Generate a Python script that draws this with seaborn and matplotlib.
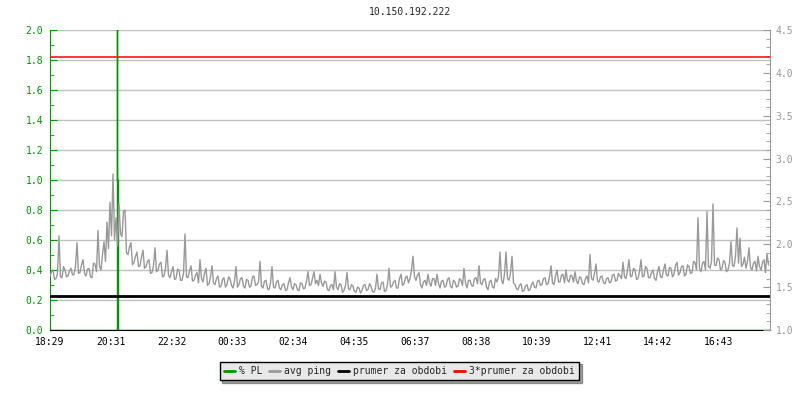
import numpy as np
import pandas as pd
import matplotlib
matplotlib.use("Agg")
import matplotlib.pyplot as plt
from matplotlib import ticker
from matplotlib.lines import Line2D
import seaborn as sns

# avg ping in ms, one reading every 3 minutes starting 18:29
ping_ms = [
    1.63, 1.68, 1.70, 1.59, 1.60, 1.66, 2.10, 1.62, 1.61, 1.74, 1.70, 1.62, 1.63, 1.69, 1.72, 1.64, 1.65, 1.74, 2.02, 1.66,
    1.67, 1.76, 1.82, 1.66, 1.63, 1.71, 1.72, 1.62, 1.61, 1.78, 1.77, 1.68, 2.16, 1.74, 1.70, 1.88, 2.03, 1.80, 2.26, 1.95,
    2.49, 2.10, 2.82, 2.05, 2.31, 1.98, 2.47, 2.12, 2.09, 2.38, 2.40, 1.90, 1.88, 1.97, 2.02, 1.76, 1.79, 1.86, 1.91, 1.74,
    1.75, 1.85, 1.93, 1.72, 1.74, 1.80, 1.82, 1.66, 1.67, 1.75, 1.96, 1.68, 1.70, 1.77, 1.79, 1.62, 1.63, 1.72, 1.93, 1.64,
    1.61, 1.68, 1.74, 1.59, 1.60, 1.71, 1.70, 1.58, 1.58, 1.66, 2.12, 1.62, 1.61, 1.69, 1.75, 1.57, 1.58, 1.64, 1.67, 1.55,
    1.82, 1.60, 1.56, 1.66, 1.72, 1.52, 1.54, 1.62, 1.75, 1.55, 1.53, 1.60, 1.63, 1.50, 1.51, 1.59, 1.61, 1.50, 1.53, 1.62,
    1.60, 1.52, 1.49, 1.57, 1.74, 1.50, 1.53, 1.60, 1.61, 1.51, 1.49, 1.59, 1.58, 1.50, 1.51, 1.62, 1.63, 1.52, 1.53, 1.56,
    1.80, 1.51, 1.49, 1.57, 1.58, 1.48, 1.47, 1.55, 1.74, 1.50, 1.49, 1.56, 1.58, 1.49, 1.47, 1.53, 1.54, 1.46, 1.47, 1.55,
    1.61, 1.50, 1.47, 1.54, 1.53, 1.47, 1.46, 1.55, 1.54, 1.48, 1.49, 1.57, 1.68, 1.52, 1.53, 1.60, 1.68, 1.54, 1.58, 1.52,
    1.65, 1.55, 1.51, 1.57, 1.56, 1.47, 1.46, 1.52, 1.53, 1.47, 1.68, 1.50, 1.47, 1.54, 1.53, 1.44, 1.46, 1.52, 1.67, 1.48,
    1.47, 1.53, 1.51, 1.45, 1.44, 1.50, 1.49, 1.43, 1.46, 1.52, 1.53, 1.46, 1.47, 1.54, 1.51, 1.45, 1.44, 1.49, 1.65, 1.48,
    1.47, 1.55, 1.56, 1.45, 1.46, 1.53, 1.72, 1.50, 1.51, 1.56, 1.58, 1.49, 1.49, 1.60, 1.65, 1.52, 1.54, 1.61, 1.63, 1.55,
    1.60, 1.70, 1.86, 1.62, 1.58, 1.64, 1.67, 1.53, 1.49, 1.56, 1.58, 1.52, 1.65, 1.55, 1.51, 1.60, 1.60, 1.52, 1.65, 1.54,
    1.49, 1.57, 1.58, 1.50, 1.51, 1.59, 1.61, 1.51, 1.49, 1.58, 1.56, 1.50, 1.51, 1.60, 1.58, 1.52, 1.72, 1.55, 1.49, 1.58,
    1.58, 1.52, 1.51, 1.60, 1.61, 1.54, 1.75, 1.55, 1.53, 1.59, 1.60, 1.50, 1.47, 1.56, 1.58, 1.50, 1.49, 1.60, 1.56, 1.63,
    1.91, 1.58, 1.54, 1.65, 1.91, 1.60, 1.58, 1.66, 1.86, 1.55, 1.53, 1.48, 1.47, 1.52, 1.54, 1.45, 1.46, 1.51, 1.53, 1.46,
    1.47, 1.53, 1.56, 1.50, 1.49, 1.57, 1.58, 1.52, 1.53, 1.60, 1.61, 1.53, 1.54, 1.62, 1.75, 1.55, 1.53, 1.63, 1.70, 1.56,
    1.56, 1.64, 1.65, 1.55, 1.70, 1.58, 1.56, 1.64, 1.63, 1.56, 1.68, 1.57, 1.54, 1.62, 1.61, 1.54, 1.53, 1.60, 1.63, 1.55,
    1.88, 1.60, 1.58, 1.66, 1.77, 1.57, 1.56, 1.62, 1.63, 1.55, 1.54, 1.60, 1.61, 1.55, 1.56, 1.64, 1.65, 1.57, 1.58, 1.66,
    1.63, 1.60, 1.79, 1.62, 1.60, 1.70, 1.82, 1.62, 1.63, 1.72, 1.70, 1.59, 1.60, 1.68, 1.82, 1.62, 1.63, 1.74, 1.72, 1.61,
    1.61, 1.67, 1.70, 1.60, 1.58, 1.68, 1.74, 1.62, 1.61, 1.70, 1.77, 1.64, 1.63, 1.73, 1.72, 1.62, 1.65, 1.75, 1.79, 1.64,
    1.67, 1.74, 1.75, 1.63, 1.65, 1.76, 1.74, 1.66, 1.67, 1.80, 1.79, 1.70, 2.31, 1.72, 1.68, 1.78, 1.80, 1.70, 2.38, 1.74,
    1.72, 1.80, 2.47, 1.76, 1.75, 1.84, 1.82, 1.70, 1.72, 1.81, 1.79, 1.68, 1.70, 1.78, 2.03, 1.75, 1.74, 1.86, 2.19, 1.78,
    2.07, 1.74, 1.77, 1.85, 1.72, 1.80, 1.96, 1.73, 1.70, 1.78, 1.80, 1.69, 1.86, 1.74, 1.70, 1.79, 1.82, 1.67, 1.89, 1.76,
]
ping_minutes = [3 * i for i in range(len(ping_ms))]

# packet loss %, zero except one burst just after 20:31
pl_minutes = [0, 134, 134, 134, 136, 136, 1439]
pl_values = [0, 0, 12.0, 1.0, 1.0, 0, 0]

mean_ms = 1.395
mean3_ms = 3 * mean_ms

tick_labels = ["18:29", "20:31", "22:32", "00:33", "02:34", "04:35",
               "06:37", "08:38", "10:39", "12:41", "14:42", "16:43"]
tick_step = 121.6
title = "10.150.192.222"

green = "#009600"
gray = "#999999"

sns.set_style("white")
plt.rcParams["font.family"] = ["DejaVu Sans Mono"]
plt.rcParams["font.size"] = 7

fig = plt.figure(figsize=(8, 4), dpi=100)
ax1 = fig.add_axes([0.0625, 0.175, 0.9, 0.75])
ax2 = ax1.twinx()

df_pl = pd.DataFrame({"t": pl_minutes, "pl": pl_values})
df_ping = pd.DataFrame({"t": ping_minutes, "ping": ping_ms})

sns.lineplot(data=df_pl, x="t", y="pl", ax=ax1, color=green, lw=1.0, legend=False,
             estimator=None, sort=False)
sns.lineplot(data=df_ping, x="t", y="ping", ax=ax2, color=gray, lw=1.0, legend=False)
ax2.axhline(mean_ms, color="black", lw=2.0)
ax2.axhline(mean3_ms, color="red", lw=1.1)

ax1.set_xlim(0, 1440)
ax1.set_ylim(0, 2.0)
ax2.set_ylim(1.0, 4.5)
ax1.set_xlabel("")
ax1.set_ylabel("")
ax2.set_ylabel("")

ax1.set_xticks([k * tick_step for k in range(len(tick_labels))])
ax1.set_xticklabels(tick_labels)
ax1.yaxis.set_major_locator(ticker.MultipleLocator(0.2))
ax1.yaxis.set_minor_locator(ticker.MultipleLocator(0.1))
ax1.yaxis.set_major_formatter(ticker.FormatStrFormatter("%.1f"))
ax2.yaxis.set_major_locator(ticker.MultipleLocator(0.5))
ax2.yaxis.set_minor_locator(ticker.MultipleLocator(0.1))
ax2.yaxis.set_major_formatter(ticker.FormatStrFormatter("%.1f"))

ax1.grid(axis="y", color="#c0c0c0", lw=1.0)
ax1.grid(axis="x", visible=False)
ax2.grid(False)

ax1.tick_params(axis="y", which="major", direction="in", length=5, color=green, labelcolor=green, pad=5)
ax1.tick_params(axis="y", which="minor", direction="in", length=3, color=green)
ax1.tick_params(axis="x", direction="in", length=5, color="black", labelcolor="black", pad=5)
ax2.tick_params(axis="y", which="major", direction="in", length=5, color=gray, labelcolor=gray, pad=4)
ax2.tick_params(axis="y", which="minor", direction="in", length=3, color=gray)

for a in (ax1, ax2):
    a.spines["top"].set_visible(False)
ax1.spines["left"].set_color(green)
ax1.spines["bottom"].set_color("black")
ax1.spines["right"].set_visible(False)
ax2.spines["left"].set_visible(False)
ax2.spines["bottom"].set_visible(False)
ax2.spines["right"].set_color(gray)

fig.text(0.5125, 0.97, title, ha="center", va="center", fontsize=7)

handles = [Line2D([], [], color=green, lw=2),
           Line2D([], [], color=gray, lw=2),
           Line2D([], [], color="black", lw=2),
           Line2D([], [], color="red", lw=2)]
labels = ["% PL", "avg ping", "prumer za obdobi", "3*prumer za obdobi"]
leg = fig.legend(handles, labels, loc="center", bbox_to_anchor=(0.499, 0.0725), ncol=4,
                 fancybox=False, shadow=True, framealpha=1, facecolor="#e8e8e8",
                 edgecolor="black", handlelength=1.1, handletextpad=0.4,
                 columnspacing=0.75, borderpad=0.45, fontsize=7)
leg.get_frame().set_linewidth(1.0)

fig.savefig("out.png", dpi=100)
